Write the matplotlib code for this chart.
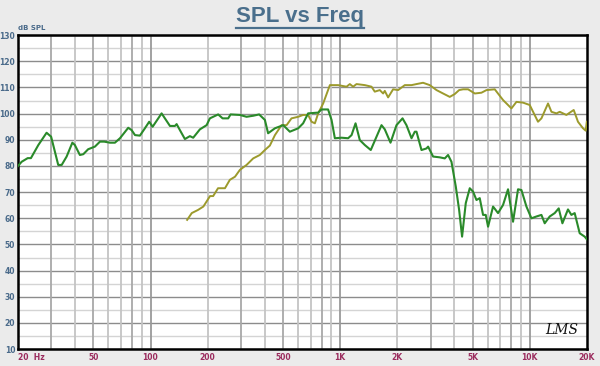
import matplotlib
matplotlib.use("Agg")
import matplotlib.pyplot as plt
from matplotlib.lines import Line2D

# woofer (green) response, Hz / dB SPL
woof_f = [20, 20.9, 22.5, 23.4, 25.6, 28.3, 29.9, 32.6, 34.0, 36.1, 38.7, 39.9,
          42.4, 44.2, 46.9, 50.9, 54.1, 57.0, 61.1, 64.9, 69.0, 76.3, 79.5, 82.8,
          87.9, 93.4, 98.4, 102.6, 114.4, 126.6, 134.5, 137.3, 142.9, 151.8, 161.3,
          167.9, 182.2, 197.6, 205.6, 227.4, 240, 256.8, 264.4, 296, 321, 348, 374,
          401, 417, 453, 501, 543, 601, 638, 678, 766, 798, 864, 901, 938, 1017,
          1102, 1149, 1206, 1270, 1350, 1451, 1556, 1653, 1720, 1844, 1983, 2134,
          2238, 2380, 2477, 2528, 2686, 2854, 2911, 3093, 3354, 3564, 3710, 3866,
          4075, 4243, 4398, 4599, 4828, 5026, 5236, 5450, 5674, 5862, 6030, 6406,
          6806, 7232, 7684, 8166, 8676, 9042, 9608, 10210, 10848, 11528, 11996,
          12748, 13546, 14220, 14872, 15914, 16584, 17262, 18346, 19496, 20000]
woof_db = [80.0, 81.6, 83.0, 83.0, 88.0, 92.7, 91.2, 80.4, 80.4, 83.6, 88.9, 88.0,
           84.2, 84.5, 86.4, 87.4, 89.3, 89.3, 88.9, 88.9, 90.6, 94.6, 93.7, 91.8,
           91.6, 94.4, 96.9, 95.0, 100.1, 95.3, 95.3, 96.0, 93.7, 90.3, 91.4,
           90.8, 94.0, 95.6, 98.2, 99.7, 98.2, 98.2, 99.7, 99.5, 98.8, 99.2, 99.7,
           97.6, 92.5, 94.4, 95.6, 93.1, 94.4, 96.3, 100.1, 100.4, 101.6, 101.6, 97.6, 90.6, 90.8,
           90.6, 91.8, 96.3, 89.9, 88.0, 86.1, 91.2, 95.6, 94.0, 88.9, 95.6, 98.2,
           95.6, 90.6, 93.1, 93.1, 86.1, 86.7, 87.4, 83.6, 83.3, 82.9, 84.2, 81.6,
           72.1, 63.2, 53.0, 65.8, 71.5, 70.2, 67.0, 67.7, 61.3, 61.3, 56.8, 64.5,
           62.0, 65.1, 71.1, 58.7, 71.1, 70.8, 64.5, 60.0, 60.7, 61.3, 58.1,
           60.7, 62.0, 63.8, 58.1, 63.4, 61.3, 62.0, 54.3, 53.0, 52.0]

# tweeter (olive) response
tw_f = [156, 165, 178, 190, 206, 214, 227, 247, 262, 279, 296, 321, 348, 377, 401,
        426, 453, 491, 522, 554, 601, 638, 678, 707, 736, 766, 814, 883, 976, 1081,
        1125, 1171, 1220, 1350, 1464, 1523, 1619, 1686, 1720, 1791, 1903, 2022,
        2193, 2380, 2528, 2738, 2970, 3224, 3492, 3787, 4024, 4243, 4452, 4731,
        5132, 5565, 5914, 6540, 7232, 8008, 8512, 9222, 10000, 11058, 11528, 12490,
        13018, 13832, 14394, 15610, 17062, 17970, 19100, 19736, 20000]
tw_db = [59.4, 62.0, 63.2, 64.5, 68.5, 68.5, 71.5, 71.5, 74.7, 75.9, 78.5, 80.4, 82.9, 84.2, 86.1,
         87.8, 91.8, 95.6, 95.6, 98.2, 98.8, 99.5, 99.5, 96.9, 96.3, 100.1, 103.9, 110.9, 110.9, 110.3,
         111.3, 110.3, 111.3, 110.9, 110.3, 108.4, 109.0, 107.7, 108.7, 106.2, 109.3, 109.0,
         110.9, 110.9, 111.3, 111.8, 110.9, 109.0, 107.7, 106.4, 107.5, 109.0, 109.3, 109.3,
         107.7, 108.0, 109.0, 109.3, 105.2, 102.0, 104.5, 104.2, 103.3, 96.9, 98.2, 103.9,
         100.7, 100.1, 100.7, 99.5, 101.4, 96.9, 94.4, 93.5, 96.9]

xticks = [20, 50, 100, 200, 500, 1000, 2000, 5000, 10000, 20000]
xlabels = ['20  Hz', '50', '100', '200', '500', '1K', '2K', '5K', '10K', '20K']
yticks = list(range(10, 131, 10))

bg = '#ebebeb'
fig = plt.figure(figsize=(6, 3.66), dpi=100, facecolor=bg)
ax = fig.add_axes([0.03, 0.046, 0.948, 0.858])
ax.set_facecolor('white')
ax.set_xscale('log')
ax.set_xlim(20, 20000)
ax.set_ylim(10, 130)

# grid
for y in range(15, 130, 10):
    ax.axhline(y, color='#d4d4d4', lw=1.0, zorder=1)
for y in yticks:
    ax.axhline(y, color='#8c8c8c', lw=1.0, zorder=1)
dec = [20, 200, 2000]
for d0 in [10, 100, 1000]:
    for m in range(2, 10):
        f = d0 * m
        if 20 < f < 20000:
            c = '#a8a8a8' if m in (3, 5, 8) else '#c4c4c4'
            ax.axvline(f, color=c, lw=1.3, zorder=1)
for f in [100, 1000, 10000]:
    ax.axvline(f, color='#9a9a9a', lw=1.3, zorder=1)

ax.plot(tw_f, tw_db, color='#9c9a2c', lw=1.4, zorder=3)
ax.plot(woof_f, woof_db, color='#2a8a2a', lw=1.5, zorder=4)

for s in ax.spines.values():
    s.set_linewidth(1.8)
    s.set_color('black')
ax.tick_params(length=0)
ax.minorticks_off()
ax.set_xticks(xticks)
ax.set_xticklabels(xlabels, fontsize=5.5, color='#9b2c5e', fontweight='bold')
ax.set_yticks(yticks)
ax.set_yticklabels([str(v) for v in yticks], fontsize=5.5, color='#4a6a8a', fontweight='bold')
ax.tick_params(axis='x', pad=3)
ax.tick_params(axis='y', pad=2)
lab0 = ax.get_xticklabels()[0]
lab0.set_horizontalalignment('left')
lab0.set_x(20)

ax.text(0.0, 1.012, 'dB SPL', transform=ax.transAxes, fontsize=5, color='#4a6a8a',
        fontweight='bold', ha='left', va='bottom')
ax.text(0.985, 0.04, 'LMS', transform=ax.transAxes, fontsize=10, style='italic',
        family='DejaVu Serif', ha='right', va='bottom', color='#111111')

title = fig.text(0.5, 0.955, 'SPL vs Freq', fontsize=16, fontweight='bold',
                 family='Liberation Sans', color='#4a6f8c', ha='center', va='center')
fig.canvas.draw()
bb = title.get_window_extent().transformed(fig.transFigure.inverted())
fig.add_artist(Line2D([bb.x0, bb.x1], [bb.y0 - 0.004, bb.y0 - 0.004],
                      color='#4a6f8c', lw=1.6, transform=fig.transFigure))

fig.savefig('out.png', dpi=100, facecolor=bg)
